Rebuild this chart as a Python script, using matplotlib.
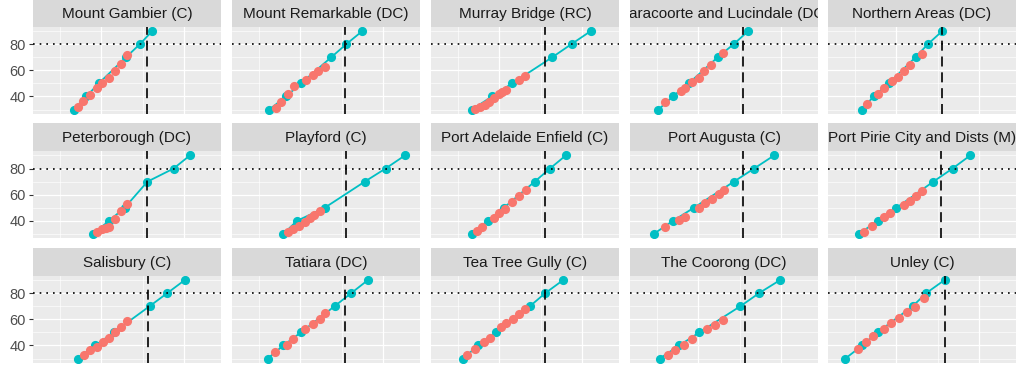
import matplotlib
matplotlib.use('Agg')
from matplotlib import pyplot as plt

plt.rcParams['font.family'] = ['Liberation Sans', 'DejaVu Sans']

councils = ["Mount Gambier (C)", "Mount Remarkable (DC)", "Murray Bridge (RC)",
            "Naracoorte and Lucindale (DC)", "Northern Areas (DC)",
            "Peterborough (DC)", "Playford (C)", "Port Adelaide Enfield (C)",
            "Port Augusta (C)", "Port Pirie City and Dists (M)",
            "Salisbury (C)", "Tatiara (DC)", "Tea Tree Gully (C)",
            "The Coorong (DC)", "Unley (C)"]

# cyan series: fixed y levels, x per council
cyan_y = [30, 40, 50, 70, 80, 90]
cyan_x = [
    [26.5, 32.7, 38.7, 52.0, 58.7, 64.7],
    [24.9, 33.0, 40.3, 55.0, 62.3, 70.1],
    [26.7, 36.4, 46.2, 65.7, 75.0, 84.4],
    [20.6, 27.6, 35.3, 49.4, 57.2, 64.2],
    [23.3, 28.9, 36.3, 49.3, 55.3, 62.3],
    [35.9, 43.6, 51.2, 62.3, 75.0, 82.9],
    [31.7, 38.2, 51.7, 71.2, 81.3, 90.7],
    [26.7, 34.3, 42.1, 57.1, 64.5, 72.2],
    [18.2, 27.6, 37.7, 57.2, 67.0, 76.7],
    [21.6, 30.9, 40.0, 57.9, 67.2, 75.8],
    [28.5, 37.1, 46.0, 63.4, 72.0, 80.5],
    [24.1, 31.7, 40.3, 56.6, 64.7, 72.8],
    [22.2, 29.8, 38.3, 54.8, 62.3, 71.0],
    [21.2, 30.7, 40.5, 60.4, 69.5, 79.7],
    [15.2, 23.4, 30.9, 47.9, 54.5, 63.4],
]

# red series
red_x = [
    [28.6, 31.1, 34.3, 37.9, 40.3, 43.6, 46.8, 49.6, 52.5],
    [28.1, 30.6, 33.8, 37.1, 42.8, 46.0, 48.5, 51.7],
    [28.3, 30.7, 33.2, 34.8, 37.2, 39.7, 41.3, 43.4, 49.4, 52.2],
    [23.9, 31.5, 33.7, 36.9, 40.2, 42.6, 45.9, 52.0],
    [25.7, 30.9, 33.8, 37.9, 40.6, 43.6, 46.5, 52.5],
    [37.9, 40.3, 42.0, 43.6, 46.8, 49.3, 52.5],
    [33.8, 36.3, 39.5, 42.0, 44.4, 46.8, 49.3],
    [29.1, 31.5, 37.2, 39.7, 42.9, 46.2, 49.4, 52.7],
    [23.9, 30.4, 33.7, 40.2, 43.4, 46.7, 49.9, 52.3],
    [24.1, 28.1, 33.8, 37.1, 43.6, 46.5, 49.3, 52.5],
    [31.4, 34.3, 37.9, 40.8, 43.6, 46.8, 49.6, 52.5],
    [27.8, 33.3, 36.6, 42.4, 46.0, 49.3, 51.7],
    [24.5, 28.0, 32.7, 35.5, 40.8, 43.4, 46.4, 49.7, 52.5],
    [25.0, 28.8, 33.0, 36.7, 44.3, 48.1, 51.9],
    [21.5, 25.2, 28.6, 33.8, 37.6, 41.3, 45.1, 48.9, 53.2],
]
red_y = [
    [32.3, 36.4, 40.8, 46.7, 50.2, 54.4, 59.5, 65.1, 71.5],
    [31.3, 35.6, 42.1, 47.7, 52.8, 56.2, 59.5, 62.1],
    [30.5, 32.3, 33.8, 35.6, 39.0, 42.1, 43.3, 45.1, 52.3, 55.4],
    [35.6, 44.1, 46.7, 51.0, 54.4, 59.5, 63.8, 73.3],
    [34.4, 42.1, 46.7, 51.8, 54.9, 59.5, 63.8, 72.3],
    [31.8, 33.6, 34.4, 35.1, 41.3, 47.9, 53.1],
    [31.8, 33.6, 36.2, 39.5, 42.1, 44.6, 47.9],
    [32.5, 35.1, 42.1, 45.9, 49.0, 54.1, 58.7, 63.8],
    [35.1, 40.8, 43.3, 49.7, 53.6, 56.7, 60.8, 63.8],
    [31.8, 36.2, 42.8, 45.9, 52.3, 55.6, 59.2, 62.6],
    [33.1, 36.4, 39.0, 42.8, 45.9, 50.3, 54.4, 58.7],
    [34.9, 40.0, 45.2, 52.3, 56.2, 60.0, 64.6],
    [33.1, 37.4, 42.6, 45.9, 54.4, 57.4, 60.5, 63.8, 68.2],
    [33.1, 36.4, 40.0, 44.6, 52.3, 55.4, 59.5],
    [37.4, 42.5, 47.1, 52.8, 56.9, 61.3, 65.2, 69.0, 75.9],
]

cutoff_x = [62.3, 61.5, 62.1, 61.8, 62.3,
            62.3, 62.0, 62.0, 61.8, 61.8,
            62.6, 61.8, 62.3, 62.8, 63.4]
ref_y = 80

W, H = 1024, 373
fig = plt.figure(figsize=(W / 100, H / 100), dpi=100)

col_left = [33, 232, 431, 630, 828]
panel_w = 188
strip_top = [-1, 123.5, 248]
strip_h = 28
panel_h = 86.5

for i, name in enumerate(councils):
    r, c = divmod(i, 5)
    l = col_left[c] / W
    w = panel_w / W
    pt = strip_top[r] + strip_h
    ax = fig.add_axes([l, 1 - (pt + panel_h) / H, w, panel_h / H])
    ax.set_facecolor('#EBEBEB')
    ax.set_xlim(6.8, 98)
    ax.set_ylim(27, 93)
    ax.set_xticks([40, 80])
    ax.set_xticks([20, 60], minor=True)
    ax.set_yticks([40, 60, 80])
    ax.set_yticks([30, 50, 70, 90], minor=True)
    ax.grid(which='major', color='white', lw=0.9)
    ax.grid(which='minor', color='white', lw=0.45)
    ax.set_axisbelow(True)
    for sp in ax.spines.values():
        sp.set_visible(False)
    ax.tick_params(axis='x', which='both', bottom=False, labelbottom=False)
    ax.tick_params(axis='y', which='minor', left=False)
    if c == 0:
        ax.tick_params(axis='y', which='major', length=3, width=0.8,
                       color='#333333', labelsize=10.5, labelcolor='#4D4D4D', pad=2)
    else:
        ax.tick_params(axis='y', which='major', left=False, labelleft=False)

    ax.plot(cyan_x[i], cyan_y, color='#00BFC4', lw=1.3, marker='o',
            ms=6.6, mew=0, zorder=3)
    ax.plot(red_x[i], red_y[i], 'o', color='#F8766D', ms=6.6, mew=0, zorder=4)
    ax.axvline(cutoff_x[i], color='black', lw=1.2, dashes=(6, 3.5), zorder=5)
    ax.axhline(ref_y, color='black', lw=1.2, dashes=(1, 3), zorder=5)

    sax = fig.add_axes([l, 1 - pt / H, w, strip_h / H])
    sax.set_facecolor('#D9D9D9')
    sax.set_xticks([])
    sax.set_yticks([])
    for sp in sax.spines.values():
        sp.set_visible(False)
    sax.text(0.5, 0.48, name, ha='center', va='center', fontsize=11,
             color='#1A1A1A', transform=sax.transAxes, clip_on=True)

# top edge of the next (cut off) row of strips
for c in range(5):
    fig.add_axes([col_left[c] / W, 0, panel_w / W, 3 / H],
                 facecolor='#EBEBEB', xticks=[], yticks=[], frame_on=False)

plt.savefig("out.png", dpi=100)
